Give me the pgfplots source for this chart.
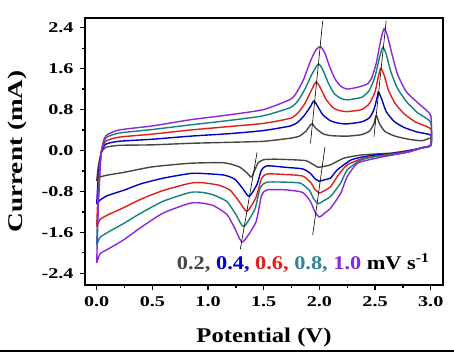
\documentclass[border=0pt]{standalone}
\usepackage{pgfplots}
\pgfplotsset{compat=1.18}
\usepackage{fontspec}
\setmainfont{Liberation Serif}
\newfontfamily\tickfont[FakeStretch=1.35]{Liberation Serif Bold}
\newfontfamily\xlabfont[FakeStretch=1.18]{Liberation Serif Bold}
\newfontfamily\ylabfont[FakeStretch=1.30]{Liberation Serif Bold}
\newfontfamily\legfont[FakeStretch=1.15]{Liberation Serif Bold}
\definecolor{cgray}{RGB}{70,70,70}
\definecolor{cblue}{RGB}{0,0,200}
\definecolor{cred}{RGB}{225,30,30}
\definecolor{cteal}{RGB}{20,130,120}
\definecolor{cpurple}{RGB}{140,40,220}
\definecolor{lteal}{RGB}{50,130,160}
\begin{document}
\begin{tikzpicture}
\begin{axis}[
  scale only axis, width=358bp, height=267bp,
  xmin=-0.105, xmax=3.11, ymin=-2.63, ymax=2.59,
  axis line style={line width=1.6bp},
  xtick={0,0.5,...,3.0}, ytick={-2.4,-1.6,...,2.4},
  minor xtick={0.25,0.75,...,2.75}, minor ytick={-2.0,-1.2,...,2.0},
  xtick pos=bottom, ytick pos=left, tick align=outside,
  major tick length=5bp, minor tick length=3bp,
  every tick/.style={black, line width=1.3bp},
  /pgf/number format/.cd, fixed, fixed zerofill, precision=1, assume math mode=true,
  /pgfplots/.cd,
  tick label style={font=\tickfont\fontsize{15}{15}\selectfont},
  xticklabel style={yshift=-3bp},
  yticklabel style={xshift=-3bp},
  xlabel={Potential (V)}, ylabel={Current (mA)},
  xlabel style={font=\xlabfont\fontsize{21}{24}\selectfont, at={(axis description cs:0.5,-0.195)}, anchor=center},
  ylabel style={font=\ylabfont\fontsize{21}{24}\selectfont, at={(axis description cs:-0.19,0.5)}, anchor=center},
  every axis plot/.append style={line width=1.4bp, line join=round, smooth, tension=0.35},
]
% 0.2 mV/s
\addplot[cgray] coordinates {
(0.00,-0.60)(0.015,-0.30)(0.04,-0.05)(0.08,0.06)(0.20,0.10)(0.50,0.11)(0.84,0.14)(1.20,0.16)(1.50,0.18)(1.74,0.24)(1.82,0.28)(1.88,0.38)(1.93,0.52)(1.97,0.43)(2.03,0.33)(2.10,0.29)(2.25,0.28)(2.38,0.31)(2.45,0.38)(2.49,0.52)(2.51,0.69)(2.54,0.52)(2.59,0.37)(2.68,0.28)(2.80,0.22)(2.92,0.19)(3.00,0.24)
(3.00,0.10)(2.92,0.05)(2.80,0.00)(2.65,-0.05)(2.50,-0.07)(2.37,-0.09)(2.22,-0.15)(2.10,-0.28)(2.02,-0.32)(1.99,-0.33)(1.94,-0.27)(1.88,-0.20)(1.75,-0.18)(1.60,-0.17)(1.50,-0.18)(1.45,-0.24)(1.42,-0.38)(1.39,-0.52)(1.35,-0.44)(1.28,-0.32)(1.14,-0.24)(0.84,-0.25)(0.50,-0.32)(0.24,-0.43)(0.10,-0.48)(0.03,-0.52)(0.00,-0.60)};
% 0.4
\addplot[cblue] coordinates {
(0.00,-1.05)(0.015,-0.50)(0.04,-0.05)(0.08,0.12)(0.20,0.18)(0.50,0.22)(0.84,0.28)(1.20,0.33)(1.50,0.39)(1.74,0.48)(1.81,0.56)(1.87,0.70)(1.92,0.86)(1.95,0.97)(1.98,0.88)(2.03,0.70)(2.10,0.58)(2.18,0.53)(2.25,0.52)(2.38,0.56)(2.45,0.64)(2.49,0.80)(2.52,1.05)(2.53,1.15)(2.56,1.00)(2.60,0.76)(2.67,0.57)(2.76,0.45)(2.88,0.36)(3.00,0.30)
(3.00,0.10)(2.92,0.05)(2.80,-0.01)(2.65,-0.06)(2.50,-0.09)(2.38,-0.13)(2.28,-0.19)(2.16,-0.38)(2.10,-0.54)(2.05,-0.57)(2.00,-0.60)(1.96,-0.55)(1.92,-0.45)(1.85,-0.36)(1.70,-0.33)(1.53,-0.30)(1.48,-0.38)(1.44,-0.66)(1.37,-0.90)(1.31,-0.74)(1.24,-0.56)(1.14,-0.48)(0.95,-0.45)(0.84,-0.45)(0.60,-0.54)(0.40,-0.65)(0.24,-0.78)(0.10,-0.88)(0.03,-0.97)(0.00,-1.05)};
% 0.6
\addplot[cred] coordinates {
(0.00,-1.50)(0.015,-0.70)(0.04,-0.05)(0.08,0.18)(0.20,0.26)(0.50,0.32)(0.84,0.40)(1.20,0.47)(1.50,0.53)(1.74,0.63)(1.81,0.74)(1.87,0.92)(1.92,1.14)(1.97,1.34)(2.01,1.22)(2.06,1.00)(2.12,0.84)(2.18,0.78)(2.25,0.76)(2.38,0.80)(2.45,0.92)(2.50,1.15)(2.53,1.45)(2.55,1.61)(2.58,1.48)(2.62,1.18)(2.68,0.92)(2.76,0.72)(2.86,0.56)(3.00,0.42)
(3.00,0.10)(2.92,0.05)(2.80,-0.02)(2.65,-0.07)(2.52,-0.11)(2.40,-0.15)(2.25,-0.28)(2.17,-0.48)(2.10,-0.71)(2.05,-0.78)(2.00,-0.83)(1.96,-0.76)(1.92,-0.62)(1.85,-0.50)(1.70,-0.47)(1.53,-0.46)(1.48,-0.55)(1.43,-0.92)(1.35,-1.19)(1.28,-1.00)(1.20,-0.78)(1.10,-0.68)(0.95,-0.63)(0.84,-0.64)(0.60,-0.78)(0.40,-0.95)(0.24,-1.12)(0.10,-1.26)(0.03,-1.35)(0.00,-1.50)};
% 0.8
\addplot[cteal] coordinates {
(0.00,-1.85)(0.015,-0.90)(0.04,-0.05)(0.08,0.24)(0.20,0.34)(0.50,0.41)(0.84,0.50)(1.20,0.59)(1.50,0.68)(1.74,0.84)(1.81,0.98)(1.87,1.20)(1.93,1.48)(1.99,1.69)(2.03,1.58)(2.08,1.32)(2.13,1.12)(2.19,1.02)(2.25,0.99)(2.38,1.04)(2.45,1.18)(2.50,1.45)(2.54,1.82)(2.57,2.02)(2.60,1.88)(2.64,1.55)(2.70,1.22)(2.78,0.96)(2.88,0.74)(3.00,0.55)
(3.00,0.10)(2.92,0.05)(2.80,-0.03)(2.65,-0.08)(2.50,-0.12)(2.37,-0.19)(2.25,-0.38)(2.19,-0.64)(2.10,-0.90)(2.04,-0.98)(1.99,-1.04)(1.95,-0.95)(1.91,-0.78)(1.83,-0.64)(1.70,-0.62)(1.53,-0.62)(1.47,-0.72)(1.42,-1.15)(1.32,-1.49)(1.25,-1.25)(1.17,-1.00)(1.05,-0.87)(0.95,-0.82)(0.84,-0.82)(0.60,-0.99)(0.40,-1.22)(0.24,-1.43)(0.10,-1.60)(0.03,-1.70)(0.00,-1.85)};
% 1.0
\addplot[cpurple] coordinates {
(0.00,-2.20)(0.015,-1.10)(0.04,-0.05)(0.08,0.28)(0.20,0.40)(0.50,0.48)(0.84,0.60)(1.20,0.70)(1.50,0.80)(1.74,1.00)(1.80,1.15)(1.86,1.40)(1.92,1.75)(1.97,1.97)(2.01,2.03)(2.05,1.90)(2.09,1.65)(2.14,1.40)(2.19,1.26)(2.25,1.20)(2.35,1.24)(2.43,1.30)(2.47,1.42)(2.51,1.70)(2.55,2.15)(2.58,2.38)(2.61,2.25)(2.65,1.90)(2.70,1.50)(2.78,1.15)(2.90,0.90)(3.00,0.68)
(3.00,0.12)(2.92,0.06)(2.80,-0.03)(2.58,-0.12)(2.45,-0.18)(2.34,-0.25)(2.25,-0.51)(2.19,-0.84)(2.10,-1.13)(2.05,-1.22)(2.00,-1.30)(1.96,-1.20)(1.92,-1.00)(1.85,-0.82)(1.70,-0.77)(1.53,-0.77)(1.48,-0.88)(1.43,-1.40)(1.31,-1.79)(1.24,-1.52)(1.17,-1.25)(1.05,-1.08)(0.95,-1.03)(0.84,-1.03)(0.60,-1.22)(0.40,-1.50)(0.24,-1.75)(0.10,-1.93)(0.03,-2.02)(0.00,-2.20)};
% guide lines
\addplot[black, line width=0.6bp, sharp plot] coordinates {(1.92,0.14)(2.03,2.54)};
\addplot[black, line width=0.6bp, sharp plot] coordinates {(2.49,0.27)(2.60,2.54)};
\addplot[black, line width=0.6bp, sharp plot] coordinates {(1.44,-0.04)(1.29,-1.93)};
\addplot[black, line width=0.6bp, sharp plot] coordinates {(2.05,0.07)(1.94,-1.65)};
\node[anchor=east, font=\legfont\fontsize{19.5}{21}\selectfont, inner sep=0pt] at (axis cs:2.99,-2.2)
  {\textcolor{cgray}{0.2,} \textcolor{cblue}{0.4,} \textcolor{cred}{0.6,} \textcolor{lteal}{0.8,} \textcolor{cpurple}{1.0} mV s\textsuperscript{-1}};
\end{axis}
\draw[line width=1.2bp] ([shift={(-85bp,-66bp)}]current axis.south west) -- ++(454bp,0);
\pgfresetboundingbox
\path[use as bounding box] ([shift={(-85bp,-70bp)}]current axis.south west) rectangle ([shift={(11bp,18bp)}]current axis.north east);
\end{tikzpicture}
\end{document}
